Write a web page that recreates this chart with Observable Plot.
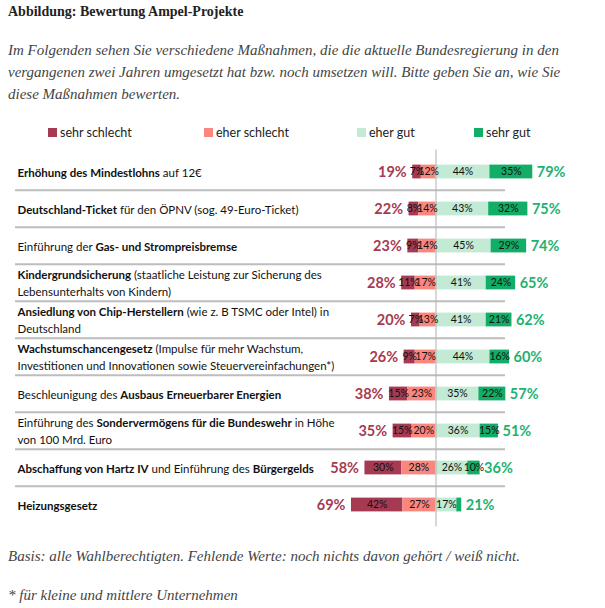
<!DOCTYPE html>
<html>
<head>
<meta charset="utf-8">
<script src="https://cdn.jsdelivr.net/npm/d3@7"></script>
<script src="https://cdn.jsdelivr.net/npm/@observablehq/plot@0.6"></script>
<style>
  body { margin: 0; background: #fff; width: 605px; height: 608px; position: relative; overflow: hidden; }
  .abs { position: absolute; left: 8px; }
  #title { top: 3px; font: bold 14px "Liberation Serif", serif; line-height: 18px; color: #222; }
  #sub { top: 39px; font: italic 15px "Liberation Serif", serif; line-height: 22px; color: #444; white-space: nowrap; }
  #legend { position: absolute; top: 124px; left: 0; width: 605px; height: 18px; font: 12.5px Lato, sans-serif; color: #222; }
  .li { position: absolute; top: 0; line-height: 18px; white-space: nowrap; }
  .li span { display: inline-block; width: 9px; height: 9px; margin-right: 3px; vertical-align: 0px; }
  #chart { position: absolute; top: 148px; left: 0; }
  .foot { font: italic 15px "Liberation Serif", serif; line-height: 18px; color: #444; white-space: nowrap; }
</style>
</head>
<body>
<div id="title" class="abs">Abbildung: Bewertung Ampel-Projekte</div>
<div id="sub" class="abs">Im Folgenden sehen Sie verschiedene Maßnahmen, die die aktuelle Bundesregierung in den<br>vergangenen zwei Jahren umgesetzt hat bzw. noch umsetzen will. Bitte geben Sie an, wie Sie<br>diese Maßnahmen bewerten.</div>
<div id="legend"></div>
<div id="chart"></div>
<div class="abs foot" style="top:547px">Basis: alle Wahlberechtigten. Fehlende Werte: noch nichts davon gehört / weiß nicht.</div>
<div class="abs foot" style="top:586px">* für kleine und mittlere Unternehmen</div>
<script>
const labels = [
  "**Erhöhung des Mindestlohns** auf 12€",
  "**Deutschland-Ticket** für den ÖPNV (sog. 49-Euro-Ticket)",
  "Einführung der **Gas- und Strompreisbremse**",
  "**Kindergrundsicherung** (staatliche Leistung zur Sicherung des\nLebensunterhalts von Kindern)",
  "**Ansiedlung von Chip-Herstellern** (wie z. B TSMC oder Intel) in\nDeutschland",
  "**Wachstumschancengesetz** (Impulse für mehr Wachstum,\nInvestitionen und Innovationen sowie Steuervereinfachungen*)",
  "Beschleunigung des **Ausbaus Erneuerbarer Energien**",
  "Einführung des **Sondervermögens für die Bundeswehr** in Höhe\nvon 100 Mrd. Euro",
  "**Abschaffung von Hartz IV** und Einführung des **Bürgergelds**",
  "**Heizungsgesetz**"
];
const sehrSchlecht = [7, 8, 9, 11, 7, 9, 15, 15, 30, 42];
const eherSchlecht = [12, 14, 14, 17, 13, 17, 23, 20, 28, 27];
const eherGut      = [44, 43, 45, 41, 41, 44, 35, 36, 26, 17];
const sehrGut      = [35, 32, 29, 24, 21, 16, 22, 15, 10, 4];
const totalSchlecht = [19, 22, 23, 28, 20, 26, 38, 35, 58, 69];
const totalGut      = [79, 75, 74, 65, 62, 60, 57, 51, 36, 21];
const categories = ["sehr schlecht", "eher schlecht", "eher gut", "sehr gut"];
const colors = ["#a53a52", "#f9877f", "#c2ead5", "#12ad67"];
const legendX = [48, 204, 357, 474];

// legend
const leg = document.getElementById("legend");
categories.forEach((c, i) => {
  const d = document.createElement("div");
  d.className = "li";
  d.style.left = legendX[i] + "px";
  d.innerHTML = `<span style="background:${colors[i]}"></span>${c}`;
  leg.appendChild(d);
});

const plain = s => s.replace(/\*\*/g, "");
const segs = [];
labels.forEach((lab, i) => {
  segs.push({y: lab, cat: categories[0], x1: -(eherSchlecht[i] + sehrSchlecht[i]), x2: -eherSchlecht[i], v: sehrSchlecht[i]});
  segs.push({y: lab, cat: categories[1], x1: -eherSchlecht[i], x2: 0, v: eherSchlecht[i]});
  segs.push({y: lab, cat: categories[2], x1: 0, x2: eherGut[i], v: eherGut[i]});
  segs.push({y: lab, cat: categories[3], x1: eherGut[i], x2: eherGut[i] + sehrGut[i], v: sehrGut[i]});
});
const rows = labels.map((lab, i) => ({y: lab, neg: totalSchlecht[i], pos: totalGut[i]}));

const band = 37.7;
const zero = 435.5, k = 1.225;
const chart = Plot.plot({
  width: 605,
  height: 380,
  marginLeft: 15,
  marginRight: 100,
  marginTop: 1.5,
  marginBottom: 1.5,
  x: {domain: [-100, 100], range: [zero - 100 * k, zero + 100 * k], axis: null},
  y: {domain: labels, axis: null, padding: 0},
  color: {domain: categories, range: colors},
  style: {fontFamily: "Lato, sans-serif", background: "transparent"},
  marks: [
    Plot.ruleY(labels.slice(1), {y: d => d, dy: -band / 2, stroke: "#bdbdbd", strokeWidth: 2}),
    Plot.barX(segs, {x1: "x1", x2: "x2", y: "y", fill: "cat", insetTop: 11.6, insetBottom: 11.6}),
    Plot.ruleX([0], {stroke: "#b0b0b0", strokeWidth: 1}),
    Plot.text(segs.filter(d => d.v >= 5), {x: d => (d.x1 + d.x2) / 2, y: "y", text: d => d.v + "%", fontSize: 10.5, fill: "#111"}),
    Plot.text(rows, {x: d => -d.neg, y: "y", text: d => d.neg + "%", textAnchor: "end", dx: -6, fontSize: 14.5, fontWeight: "bold", fill: "#a63a50"}),
    Plot.text(rows, {x: d => d.pos, y: "y", text: d => d.pos + "%", textAnchor: "start", dx: 4, fontSize: 14.5, fontWeight: "bold", fill: "#1db270"}),
    Plot.text(labels, {y: d => d, text: d => plain(d), frameAnchor: "left", textAnchor: "start", dx: 2, fontSize: 11.5, fill: "#111", className: "catlab"})
  ]
});
document.getElementById("chart").appendChild(chart);

// apply bold runs within category labels
const NS = "http://www.w3.org/2000/svg";
const texts = chart.querySelectorAll("g.catlab text");
texts.forEach((t, i) => {
  const lines = labels[i].split("\n");
  while (t.firstChild) t.removeChild(t.firstChild);
  t.removeAttribute("dy");
  const lh = 17.4;
  lines.forEach((line, j) => {
    const parts = line.split("**");
    parts.forEach((p, m) => {
      if (!p) return;
      const ts = document.createElementNS(NS, "tspan");
      if (m === 0 || (m === 1 && !parts[0])) {
        ts.setAttribute("x", "0");
        ts.setAttribute("y", ((j - (lines.length - 1) / 2) * lh + 4.5).toFixed(1));
      }
      if (m % 2 === 1) ts.setAttribute("font-weight", "bold");
      ts.textContent = p;
      t.appendChild(ts);
    });
  });
});
</script>
</body>
</html>
